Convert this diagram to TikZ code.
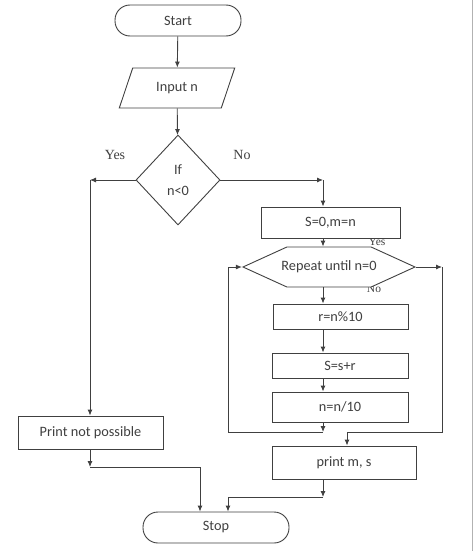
\documentclass[tikz,border=0pt]{standalone}
\usepackage{fontspec}
\setmainfont{Carlito}
\newfontfamily\yesfont{Liberation Serif}
\usetikzlibrary{shapes.geometric,shapes.symbols,arrows.meta,positioning}

\begin{document}
\begin{tikzpicture}[x=1pt,y=-1pt,
    line width=0.9pt, draw=black!75,
    every node/.style={font=\fontsize{14.3}{16}\selectfont, text=black!75},
    term/.style={draw, rectangle, rounded corners=15pt, minimum width=126pt, minimum height=31pt, fill=white},
    io/.style={draw, trapezium, trapezium left angle=68, trapezium right angle=112, trapezium stretches=true, minimum width=116pt, minimum height=40pt},
    decide/.style={draw, diamond, minimum width=84pt, minimum height=90pt, inner sep=0pt, align=center},
    proc/.style={draw, rectangle, fill=white, inner sep=0pt},
    hexa/.style={draw, signal, signal to=west and east, signal pointer angle=49, minimum width=172pt, minimum height=40pt, inner sep=0pt, fill=white},
    lbl/.style={font=\yesfont\fontsize{14}{15}\selectfont},
    smlbl/.style={font=\yesfont\fontsize{11.5}{12}\selectfont},
    flow/.style={-{Latex[length=6pt,width=5pt]}}]
    \useasboundingbox (0,0) rectangle (474,551);
    \draw[black!30] (472,0) -- (472,551);

    % small labels at the repeat box, partly hidden
    \node[smlbl] (loopyes) at (377,242) {Yes};
    \node[smlbl] (loopno) at (374,289) {No};

    \node[term] (start) at (178,20.5) {Start};
    \node[io] (input) at (177,88) {Input n};
    \node[decide] (test) at (178,180) {If\\[5pt]n<0};
    \node[lbl] (yes) at (115,155) {Yes};
    \node[lbl] (no) at (242,155) {No};

    \node[proc, minimum width=139pt, minimum height=31pt] (init) at (330.5,222.5) {S=0,m=n};
    \node[hexa] (loop) at (329,267) {\makebox[70pt][c]{Repeat until n=0}};
    \node[proc, minimum width=135pt, minimum height=25pt] (rem) at (340.5,316.5) {r=n\%10};
    \node[proc, minimum width=136pt, minimum height=25pt] (sum) at (340,365.5) {S=s+r};
    \node[proc, minimum width=136pt, minimum height=30pt] (div) at (340,407) {n=n/10};
    \node[proc, minimum width=144pt, minimum height=33pt] (pms) at (344,462.5) {print m, s};
    \node[proc, minimum width=145pt, minimum height=33pt] (notp) at (90.5,432.5) {Print not possible};
    \node[term, minimum width=146pt] (stop) at (216,527.5) {Stop};

    \coordinate (yesc) at (90,180);
    \coordinate (noc) at (323,180);
    \coordinate (col) at (323,0);
    \coordinate (back) at (323,432);
    \coordinate (lp) at (228,432);
    \coordinate (rp) at (442,267);
    \coordinate (exitc) at (347,432);
    \coordinate (pc) at (90,467);
    \coordinate (pc2) at (323,497);

    \draw[flow] (start) -- (input);
    \draw[flow] (input) -- (test);
    \draw[flow] (test.west) -- (yesc);
    \draw[flow] (yesc) -- (notp.north -| yesc);
    \draw[flow] (test.east) -- (noc);
    \draw[flow] (noc) -- (init.north -| noc);
    \draw[flow] (init.south -| col) -- (loop.north -| col);
    \draw[flow] (loop.south -| col) -- (rem.north -| col);
    \draw[flow] (rem.south -| col) -- (sum.north -| col);
    \draw[flow] (sum.south -| col) -- (div.north -| col);
    \draw[flow] (div.south -| col) -- (back);
    \draw[flow] (back) -- (lp) |- (loop.west);
    \draw[flow] (loop.east) -- (rp);
    \draw[flow] (rp) |- (exitc) -- (pms.north -| exitc);
    \draw[flow] (notp.south -| pc) -- (pc);
    \draw[flow] (pc) -| ([xshift=-16pt]stop.north);
    \draw[flow] (pms.south -| col) -- (pc2);
    \draw[flow] (pc2) -| ([xshift=12pt]stop.north);
\end{tikzpicture}
\end{document}
